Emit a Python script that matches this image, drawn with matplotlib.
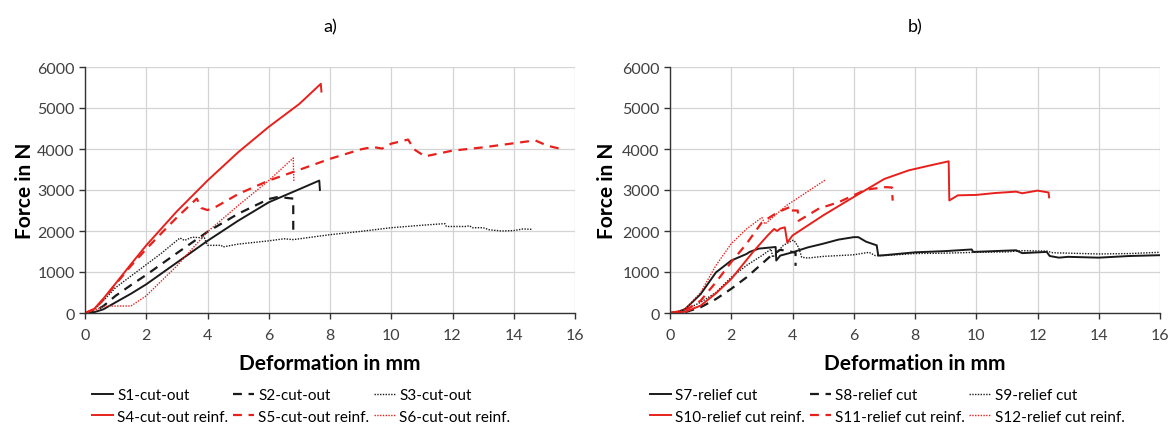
"""
Force-deformation curves of the cut-out (a) and relief cut (b) specimens.
"""
import matplotlib
matplotlib.use('Agg')
import matplotlib.pyplot as plt

# Panel a) cut-out specimens
s1_x = [0, 0.3, 0.6, 1.0, 1.5, 2.0, 3.0, 4.0, 5.0, 6.0, 7.0, 7.65, 7.67]
s1_y = [0, 20, 90, 260, 470, 700, 1230, 1760, 2250, 2700, 3020, 3230, 3000]

s2_x = [0, 0.3, 0.6, 1.0, 1.5, 2.0, 3.0, 4.0, 5.0, 6.0, 6.3, 6.8, 6.8]
s2_y = [0, 40, 170, 420, 680, 930, 1460, 1980, 2420, 2780, 2830, 2790, 1960]

s3_x = [0, 0.3, 0.6, 1.0, 1.5, 2.0, 2.5, 3.1, 3.25, 3.5, 3.9, 4.0, 4.45, 4.5,
        5.0, 6.0, 6.5, 6.8, 8.0, 9.0, 10.0, 11.0, 11.75, 11.8, 12.45, 12.55,
        12.65, 13.0, 13.2, 13.6, 14.0, 14.3, 14.6]
s3_y = [0, 80, 300, 620, 900, 1180, 1460, 1830, 1770, 1850, 1830, 1650, 1650, 1610,
        1680, 1760, 1810, 1790, 1910, 1990, 2080, 2140, 2180, 2110, 2110, 2130,
        2080, 2080, 2030, 2000, 2010, 2050, 2040]

s4_x = [0, 0.3, 0.6, 1.0, 1.5, 2.0, 3.0, 4.0, 5.0, 6.0, 7.0, 7.7, 7.72]
s4_y = [0, 100, 350, 720, 1190, 1650, 2480, 3230, 3920, 4540, 5100, 5590, 5400]

s5_x = [0, 0.3, 0.6, 1.0, 1.5, 2.0, 2.5, 3.0, 3.65, 3.8, 4.0, 4.3, 5.0, 6.0,
        6.8, 8.0, 9.0, 9.4, 9.7, 10.0, 10.55, 10.75, 11.1, 12.0, 13.0, 14.0,
        14.7, 15.1, 15.55]
s5_y = [0, 90, 330, 700, 1150, 1560, 1950, 2330, 2790, 2560, 2510, 2600, 2900, 3230,
        3440, 3760, 3990, 4050, 4010, 4130, 4230, 3990, 3820, 3960, 4040, 4140,
        4210, 4080, 4000]

s6_x = [0, 0.3, 0.6, 1.0, 1.5, 2.0, 3.0, 4.0, 5.0, 6.0, 6.8, 6.82]
s6_y = [0, 60, 160, 170, 170, 420, 1150, 1980, 2620, 3230, 3780, 3200]

# Panel b) relief cut specimens
s7_x = [0, 0.3, 0.5, 1.0, 1.5, 2.0, 2.5, 2.6, 2.9, 3.45, 3.47, 3.6, 4.0, 4.5,
        5.0, 5.5, 6.0, 6.15, 6.4, 6.75, 6.8, 7.0, 8.0, 9.0, 9.85, 9.9, 11.3,
        11.5, 12.3, 12.4, 12.7, 13.0, 14.0, 15.0, 16.0]
s7_y = [0, 30, 100, 460, 990, 1280, 1440, 1490, 1570, 1610, 1280, 1400, 1480, 1600,
        1690, 1790, 1850, 1850, 1740, 1650, 1400, 1410, 1480, 1510, 1550, 1490, 1530,
        1460, 1490, 1390, 1350, 1370, 1350, 1390, 1410]

s8_x = [0, 0.5, 1.0, 1.5, 2.0, 2.5, 3.0, 3.3, 3.6, 3.8, 4.1, 4.1]
s8_y = [0, 20, 140, 340, 590, 870, 1200, 1400, 1540, 1520, 1470, 1150]

s9_x = [0, 0.5, 1.0, 1.5, 2.0, 2.5, 3.0, 3.3, 3.35, 3.5, 3.7, 4.0, 4.05, 4.2,
        4.3, 4.5, 5.0, 5.5, 6.0, 6.5, 6.7, 7.0, 8.0, 9.0, 10.0, 11.0, 11.5,
        12.3, 12.5, 13.5, 14.0, 15.0, 16.0]
s9_y = [0, 80, 260, 500, 870, 1160, 1400, 1560, 1360, 1480, 1650, 1770, 1770, 1600,
        1360, 1340, 1380, 1400, 1420, 1480, 1400, 1400, 1450, 1460, 1480, 1490, 1520,
        1510, 1470, 1450, 1440, 1450, 1480]

s10_x = [0, 0.5, 1.0, 1.5, 2.0, 2.7, 3.2, 3.4, 3.5, 3.6, 3.75, 3.83, 4.0, 5.0,
         6.0, 7.0, 7.8, 8.5, 9.1, 9.12, 9.4, 10.0, 10.6, 11.3, 11.5, 12.0, 12.2,
         12.36, 12.38]
s10_y = [0, 30, 180, 480, 830, 1480, 1900, 2050, 2000, 2060, 2090, 1720, 1890, 2380,
         2830, 3270, 3480, 3600, 3700, 2745, 2870, 2880, 2925, 2960, 2920, 2985, 2960,
         2940, 2820]

s11_x = [0, 0.5, 1.0, 1.5, 2.0, 2.5, 3.0, 3.5, 3.96, 3.97, 4.17, 4.2, 4.87, 5.5,
         6.4, 7.05, 7.25, 7.27]
s11_y = [0, 60, 300, 750, 1240, 1690, 2210, 2450, 2600, 2500, 2500, 2250, 2550, 2700,
         3010, 3070, 3060, 2740]

s12_x = [0, 0.5, 1.0, 1.5, 2.0, 2.5, 3.0, 3.1, 3.8, 4.45, 5.08]
s12_y = [0, 100, 500, 1160, 1690, 2050, 2330, 2170, 2620, 2940, 3250]

labels_a = ['S1-cut-out', 'S2-cut-out', 'S3-cut-out',
            'S4-cut-out reinf.', 'S5-cut-out reinf.', 'S6-cut-out reinf.']
labels_b = ['S7-relief cut', 'S8-relief cut', 'S9-relief cut',
            'S10-relief cut reinf.', 'S11-relief cut reinf.', 'S12-relief cut reinf.']

RED = '#e8201c'
BLACK = '#1a1a1a'
STYLES = [
    dict(color=BLACK, lw=1.4, ls='-'),
    dict(color=BLACK, lw=1.6, ls=(0, (4, 3))),
    dict(color=BLACK, lw=1.0, ls=(0, (1, 1))),
    dict(color=RED, lw=1.4, ls='-'),
    dict(color=RED, lw=1.6, ls=(0, (4, 3))),
    dict(color=RED, lw=1.0, ls=(0, (1, 1))),
]

plt.rcParams['font.family'] = ['Lato', 'DejaVu Sans']

W, H = 1173, 427
fig = plt.figure(figsize=(W / 100, H / 100), dpi=100)


def draw_panel(left_px, series, labels, title, ylabel_px, legend_px):
    ax = fig.add_axes([left_px / W, 1 - 314 / H, 490 / W, 246 / H])
    lines = []
    for (x, y), style, label in zip(series, STYLES, labels):
        line, = ax.plot(x, y, label=label, **style)
        lines.append(line)

    ax.set_xlim(0, 16)
    ax.set_ylim(0, 6000)
    ax.set_xticks(range(0, 17, 2))
    ax.set_yticks(range(0, 6001, 1000))
    ax.grid(True, color='#d4d4d4', lw=0.9)
    ax.set_axisbelow(True)
    for side in ['top', 'right']:
        ax.spines[side].set_visible(False)
    for side in ['left', 'bottom']:
        ax.spines[side].set_color('#333333')
        ax.spines[side].set_linewidth(1.0)
    ax.tick_params(labelsize=11.5, colors='#333333', labelcolor='#404040',
                   length=4, width=1.0)
    ax.tick_params(axis='x', pad=7)

    fig.text((left_px + 245) / W, 1 - 27 / H, title, ha='center', va='center',
             fontsize=13)
    fig.text((left_px + 245) / W, 1 - 364 / H, 'Deformation in mm', ha='center',
             va='center', fontsize=15, fontweight='bold')
    fig.text(ylabel_px / W, 1 - 191 / H, 'Force in N', ha='center', va='center',
             rotation=90, fontsize=15, fontweight='bold')

    # Excel style legend: row 1 unreinforced, row 2 reinforced
    order = [0, 3, 1, 4, 2, 5]
    fig.legend([lines[i] for i in order], [labels[i] for i in order],
               loc='upper left', bbox_to_anchor=(legend_px / W, 1 - 389 / H),
               ncol=3, frameon=False, fontsize=11, handlelength=1.4,
               handletextpad=0.25, columnspacing=0.3, labelspacing=0.5,
               borderpad=0, borderaxespad=0)
    return ax


draw_panel(85, [(s1_x, s1_y), (s2_x, s2_y), (s3_x, s3_y),
                (s4_x, s4_y), (s5_x, s5_y), (s6_x, s6_y)],
           labels_a, 'a)', 25, 92)
draw_panel(670, [(s7_x, s7_y), (s8_x, s8_y), (s9_x, s9_y),
                 (s10_x, s10_y), (s11_x, s11_y), (s12_x, s12_y)],
           labels_b, 'b)', 607, 650)

fig.savefig('out.png', dpi=100)
